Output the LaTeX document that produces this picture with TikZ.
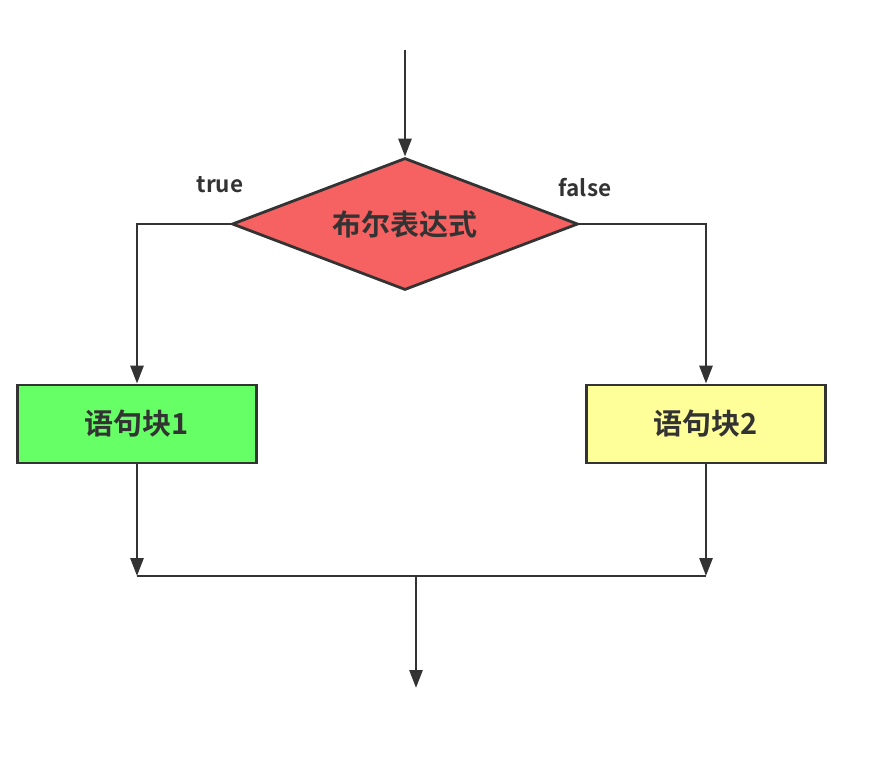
\documentclass[tikz,border=0pt]{standalone}
\usepackage{fontspec}
\setmainfont{Noto Sans CJK SC}[BoldFont={* Bold}]
\usetikzlibrary{shapes.geometric,arrows.meta}
\definecolor{lc}{HTML}{333333}
\definecolor{redf}{HTML}{F66262}
\definecolor{greenf}{HTML}{66FF66}
\definecolor{yellowf}{HTML}{FFFF99}
\begin{document}
\begin{tikzpicture}[x=1pt,y=-1pt,
  ln/.style={draw=lc,line width=2.8pt},
  arr/.style={ln,-{Triangle[length=18pt,width=13pt]}},
  decision/.style={diamond,draw=lc,line width=2.8pt,fill=redf,shape aspect=2.62,minimum width=346pt,minimum height=132pt,inner sep=0pt,font=\fontsize{29}{34}\selectfont\bfseries,text=lc},
  blockbox/.style={rectangle,draw=lc,line width=2.8pt,minimum width=239pt,minimum height=78pt,inner sep=0pt,font=\fontsize{29}{34}\selectfont\bfseries,text=lc},
  lbl/.style={font=\fontsize{22.5}{27}\selectfont\bfseries,text=lc}]
\useasboundingbox (0,0) rectangle (890,758);
\node[decision] (d) at (405,224) {布尔表达式};
\node[blockbox,fill=greenf] (b1) at (137,424) {语句块1};
\node[blockbox,fill=yellowf] (b2) at (706,424) {语句块2};
\node[lbl] (t) at (220,185) {true};
\node[lbl] (f) at (585,188) {false};
\coordinate (s) at (405,50);
\coordinate (j1) at (137,576);
\coordinate (j2) at (706,576);
\coordinate (m) at (416,576);
\coordinate (e) at (416,688);
\draw[arr] (s) -- (d.north);
\draw[arr] (d.west) -| (b1.north);
\draw[arr] (d.east) -| (b2.north);
\draw[arr] (b1.south) -- (j1);
\draw[arr] (b2.south) -- (j2);
\draw[ln] (j1) -- (j2);
\draw[arr] (m) -- (e);
\end{tikzpicture}
\end{document}
